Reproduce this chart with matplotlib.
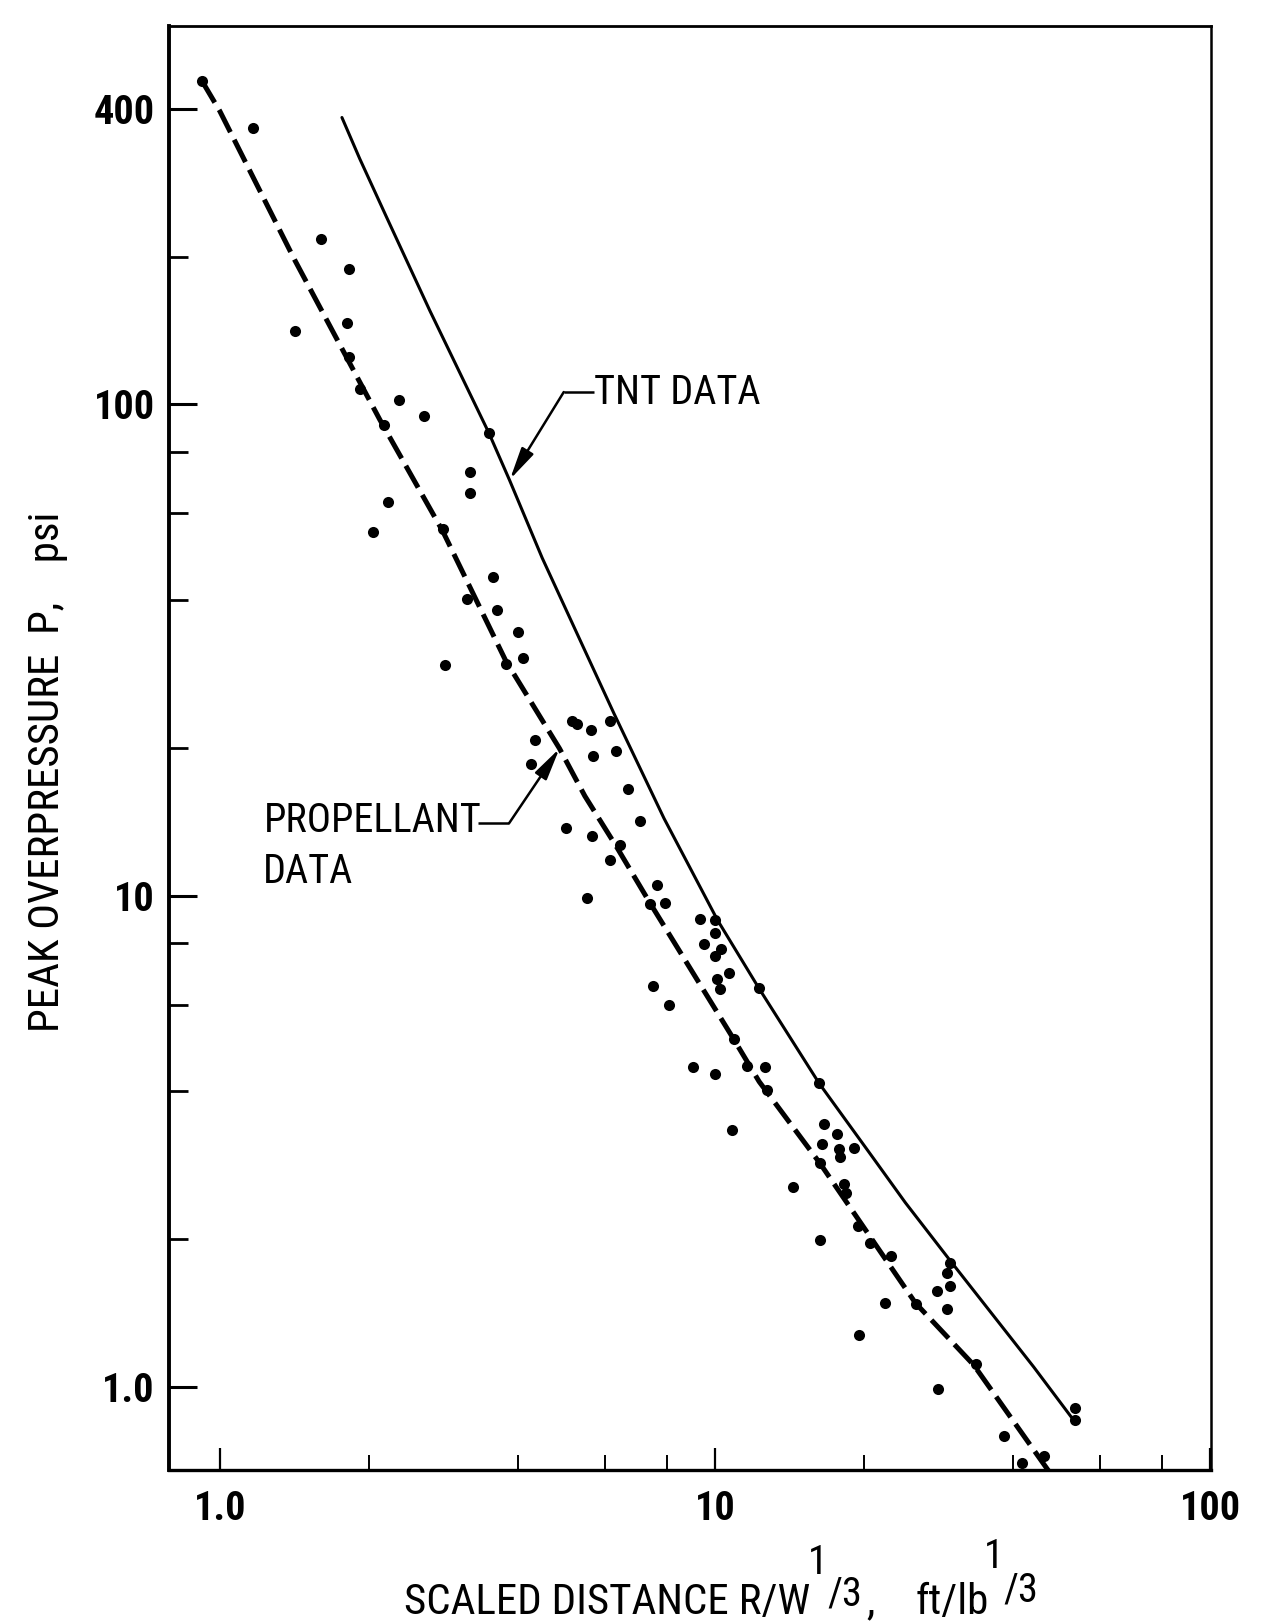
"""
Peak overpressure vs. scaled distance, log-log: propellant test points with
their dashed fit, against the solid TNT reference curve.
"""

from __future__ import annotations

import matplotlib

matplotlib.use("Agg")
import matplotlib.pyplot as plt
from matplotlib.ticker import FixedFormatter, FixedLocator, NullFormatter

# TNT reference curve (solid)
TNT_X = [1.765, 1.917, 2.168, 2.658, 3.493, 3.848, 4.478, 5.41, 6.25, 7.89,
         8.88, 10.12, 12.26, 16.23, 20.9, 24.23, 29.87, 44.0, 52.6]
TNT_P = [384, 316.6, 241.6, 155, 87.6, 70.1, 48.7, 32.2, 23.5, 14.36,
         11.45, 8.91, 6.48, 4.146, 2.915, 2.37, 1.804, 1.097, 0.863]

# propellant fit (dashed), runs off the bottom axis
PROP_FIT_X = [0.921, 1.0, 1.417, 2.104, 2.823, 3.778, 4.853, 5.46, 6.33,
              7.39, 10.91, 12.28, 16.3, 25.4, 33.3, 46.9, 48.5]
PROP_FIT_P = [455.6, 396, 196.9, 93.2, 55.1, 30.1, 19.93, 15.95, 12.56,
              9.66, 5.1, 4.18, 2.848, 1.48, 1.107, 0.679, 0.649]

# measured propellant points
PROP_X = [0.921, 1.166, 1.605, 1.822, 1.416, 1.805, 1.824, 1.919, 2.302,
          2.587, 2.142, 3.493,
          3.199, 3.205, 2.188, 2.039, 2.825, 3.561, 3.156, 3.631, 4.006,
          4.1, 3.788, 2.855, 5.145, 5.265, 5.614, 6.13, 4.326, 4.244, 5.66,
          6.3, 6.66,
          7.06, 5.005, 5.656, 6.43, 6.14, 7.64, 5.52, 7.38, 7.92, 9.31,
          10.01, 10.02, 9.48, 10.26, 9.99, 10.65, 10.11, 10.25, 12.26, 7.51,
          8.09, 10.91, 9.02, 10.0, 11.6, 12.64, 12.75, 16.2, 10.82, 16.59,
          17.6, 16.47, 19.08, 17.83, 17.9, 16.3, 14.35, 18.24, 18.37,
          16.31, 19.4, 20.6, 22.7, 29.8, 29.36, 29.77, 28.04, 29.43, 22.04,
          25.42, 19.5, 33.57, 28.19, 53.4, 53.3, 38.3, 41.6, 46.2]
PROP_P = [455.6, 365, 217.7, 189, 141, 146.3, 125.1, 107.6, 102.1,
          94.7, 91.0, 87.6,
          73.0, 66.0, 63.4, 55.0, 55.8, 44.5, 40.1, 38.2, 34.4,
          30.5, 29.6, 29.5, 22.7, 22.4, 21.7, 22.7, 20.7, 18.57, 19.22,
          19.7, 16.49,
          14.22, 13.72, 13.25, 12.66, 11.84, 10.51, 9.87, 9.61, 9.68, 8.98,
          8.94, 8.4, 7.97, 7.77, 7.53, 6.96, 6.76, 6.45, 6.48, 6.54,
          5.975, 5.1, 4.47, 4.33, 4.49, 4.47, 4.02, 4.15, 3.337, 3.42,
          3.27, 3.126, 3.064, 3.047, 2.93, 2.85, 2.556, 2.583, 2.485,
          1.988, 2.121, 1.958, 1.842, 1.79, 1.708, 1.604, 1.57, 1.438, 1.479,
          1.475, 1.272, 1.11, 0.99, 0.904, 0.856, 0.793, 0.70, 0.724]

X_MAJOR = [1, 10, 100]
X_MAJOR_LABELS = ["1.0", "10", "100"]
X_MINOR = [2, 4, 6, 8, 20, 40, 60, 80]
Y_MAJOR = [1, 10, 100, 400]
Y_MAJOR_LABELS = ["1.0", "10", "100", "400"]
Y_MINOR = [2, 4, 6, 8, 20, 40, 60, 80, 200]

X_LIM = (0.789, 100.2)
Y_LIM = (0.676, 589)

# callouts (data coords): text anchor, elbow of the leader, arrow tip
TNT_TEXT_AT = (5.69, 106)
TNT_ELBOW = (4.95, 106)
TNT_TIP = (3.855, 70.4)
PROP_TEXT_AT = (1.229, 14.2)
PROP_TEXT2_AT = (1.22, 11.2)
PROP_LEAD_FROM = (3.325, 14.05)
PROP_ELBOW = (3.841, 14.05)
PROP_TIP = (4.853, 19.93)

W_PX, H_PX = 1265, 1621
_FONT = ["Roboto Condensed", "Liberation Sans", "DejaVu Sans"]


def _px(x: float, y: float) -> tuple[float, float]:
    """pixel position (from top-left) -> figure fraction"""
    return x / W_PX, 1.0 - y / H_PX


def _callout(ax, start, elbow, tip) -> None:
    ax.plot([start[0], elbow[0]], [start[1], elbow[1]], color="black",
            lw=1.8, solid_capstyle="butt", zorder=4)
    ax.annotate(
        "",
        xy=tip,
        xytext=elbow,
        arrowprops=dict(
            arrowstyle="-|>,head_length=0.75,head_width=0.16",
            mutation_scale=26,
            color="black",
            lw=1.8,
            shrinkA=0,
            shrinkB=0,
        ),
        zorder=4,
    )


def main() -> None:
    plt.rcParams["font.family"] = _FONT
    fig = plt.figure(figsize=(W_PX / 100, H_PX / 100), dpi=100)
    ax = fig.add_axes([0.1334, 0.0930, 0.8237, 0.8908])
    ax.set_xscale("log")
    ax.set_yscale("log")
    ax.set_xlim(*X_LIM)
    ax.set_ylim(*Y_LIM)

    ax.plot(TNT_X, TNT_P, color="black", lw=2.2, solid_capstyle="round",
            solid_joinstyle="round", zorder=2)
    ax.plot(PROP_FIT_X, PROP_FIT_P, color="black", lw=3.6,
            dashes=(5.0, 1.7), dash_capstyle="butt", zorder=2)
    ax.plot(PROP_X, PROP_P, "o", ms=8, color="black", mew=0, zorder=3)

    # callouts
    ax.text(*TNT_TEXT_AT, "TNT DATA", fontsize=29, ha="left", va="center")
    _callout(ax, TNT_TEXT_AT, TNT_ELBOW, TNT_TIP)
    ax.text(*PROP_TEXT_AT, "PROPELLANT", fontsize=29, ha="left", va="center")
    ax.text(*PROP_TEXT2_AT, "DATA", fontsize=29, ha="left", va="center")
    _callout(ax, PROP_LEAD_FROM, PROP_ELBOW, PROP_TIP)

    # ticks: inward, left/bottom only
    ax.xaxis.set_major_locator(FixedLocator(X_MAJOR))
    ax.xaxis.set_major_formatter(FixedFormatter(X_MAJOR_LABELS))
    ax.xaxis.set_minor_locator(FixedLocator(X_MINOR))
    ax.xaxis.set_minor_formatter(NullFormatter())
    ax.yaxis.set_major_locator(FixedLocator(Y_MAJOR))
    ax.yaxis.set_major_formatter(FixedFormatter(Y_MAJOR_LABELS))
    ax.yaxis.set_minor_locator(FixedLocator(Y_MINOR))
    ax.yaxis.set_minor_formatter(NullFormatter())

    ax.tick_params(axis="x", which="major", direction="in", length=16,
                   width=1.6, pad=14, labelsize=29, top=False)
    ax.tick_params(axis="x", which="minor", direction="in", length=11,
                   width=1.4, top=False)
    ax.tick_params(axis="y", which="major", direction="in", length=20,
                   width=2.2, pad=10, labelsize=29, right=False)
    ax.tick_params(axis="y", which="minor", direction="in", length=14,
                   width=2.0, right=False)
    for lab in ax.get_xticklabels() + ax.get_yticklabels():
        lab.set_fontweight("bold")

    ax.spines["left"].set_linewidth(2.8)
    ax.spines["bottom"].set_linewidth(2.4)
    ax.spines["top"].set_linewidth(2.0)
    ax.spines["right"].set_linewidth(1.8)

    # axis titles, hand-placed like the lettering in the original;
    # the 1/3 exponents are set as a raised "1" followed by a lower "/3"
    fig.text(*_px(48, 772), "PEAK OVERPRESSURE  P,    psi", rotation=90,
             ha="center", va="center", fontsize=31)
    fig.text(*_px(404, 1614), "SCALED DISTANCE R/W", fontsize=31,
             ha="left", va="baseline")
    fig.text(*_px(808, 1574), "1", fontsize=29, ha="left", va="baseline")
    fig.text(*_px(827, 1605), "/3", fontsize=29, ha="left", va="baseline")
    fig.text(*_px(866, 1614), ",", fontsize=31, ha="left", va="baseline")
    fig.text(*_px(916, 1614), "ft/lb", fontsize=31, ha="left",
             va="baseline")
    fig.text(*_px(984, 1568), "1", fontsize=29, ha="left", va="baseline")
    fig.text(*_px(1003, 1601), "/3", fontsize=29, ha="left", va="baseline")

    fig.savefig("out.png", dpi=100, facecolor="white")


if __name__ == "__main__":
    main()
